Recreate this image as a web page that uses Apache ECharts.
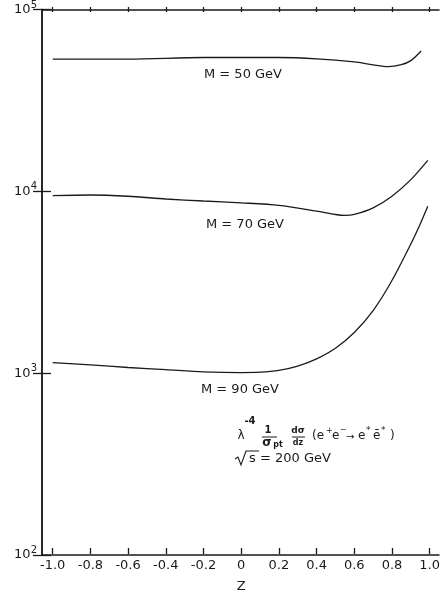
<!DOCTYPE html>
<html>
<head>
<meta charset="utf-8">
<script src="https://cdn.jsdelivr.net/npm/echarts@6/dist/echarts.min.js"></script>
<style>
  html, body { margin: 0; padding: 0; background: #fff; }
  #chart { width: 443px; height: 598px; }
</style>
</head>
<body>
<div id="chart"></div>
<script>
// Differential cross section vs. z for three excited-electron masses (log scale)
const zM50 = [-1.0, -0.6, -0.2, 0.2, 0.4, 0.6, 0.7, 0.78, 0.85, 0.9, 0.955];
const valM50 = [51760, 51760, 52840, 52840, 52000, 50000, 48190, 47100, 48300, 50820, 57410];

const zM70 = [-1.0, -0.8, -0.6, -0.4, -0.2, 0.0, 0.2, 0.4, 0.5, 0.55, 0.6, 0.7, 0.8, 0.9, 0.99];
const valM70 = [9247, 9311, 9162, 8851, 8630, 8433, 8166, 7586, 7278, 7194, 7278, 7907, 9162, 11300, 14420];

const zM90 = [-1.0, -0.8, -0.6, -0.4, -0.2, 0.0, 0.1, 0.2, 0.3, 0.4, 0.5, 0.6, 0.7, 0.8, 0.9, 0.95, 0.99];
const valM90 = [1122, 1089, 1054, 1026, 998, 989, 993, 1016, 1072, 1175, 1343, 1641, 2163, 3162, 5012, 6457, 8072];

const curveNames = ['M = 50 GeV', 'M = 70 GeV', 'M = 90 GeV'];
const xTickMin = -1.0, xTickMax = 1.0, xTickStep = 0.2;
const yMin = 100, yMax = 100000;

const FONT = 'DejaVu Sans';
const INK = '#1a1a1a';

const pairs = (xs, ys) => xs.map((x, i) => [x, ys[i]]);

const chart = echarts.init(document.getElementById('chart'), null, { renderer: 'canvas' });

const frameLine = { show: true, lineStyle: { color: INK, width: 1.5 } };

const option = {
  backgroundColor: '#ffffff',
  animation: false,
  grid: [
    // outer frame
    { left: 42, right: 4, top: 7, bottom: 43 },
    // data region, z from -1 to 1
    { left: 52.7, right: 11.3, top: 7, bottom: 43 }
  ],
  xAxis: [
    { gridIndex: 0, type: 'value', min: 0, max: 1, position: 'bottom',
      axisLine: frameLine, axisTick: { show: false }, axisLabel: { show: false }, splitLine: { show: false } },
    { gridIndex: 0, type: 'value', min: 0, max: 1, position: 'top',
      axisLine: frameLine, axisTick: { show: false }, axisLabel: { show: false }, splitLine: { show: false } },
    { gridIndex: 1, type: 'value', min: xTickMin, max: xTickMax, interval: xTickStep, position: 'bottom',
      axisLine: { show: false },
      axisTick: { show: true, inside: true, length: 6, lineStyle: { color: INK, width: 1.3 } },
      axisLabel: {
        show: true, margin: 5, color: INK, fontFamily: FONT, fontSize: 13,
        formatter: v => Math.abs(v) < 1e-9 ? '0' : v.toFixed(1)
      },
      splitLine: { show: false },
      name: 'Z', nameLocation: 'middle', nameGap: 26,
      nameTextStyle: { color: INK, fontFamily: FONT, fontSize: 13 }
    },
    { gridIndex: 1, type: 'value', min: xTickMin, max: xTickMax, interval: xTickStep, position: 'top',
      axisLine: { show: false },
      axisTick: { show: true, inside: true, length: 5, lineStyle: { color: INK, width: 1.3 } },
      axisLabel: { show: false }, splitLine: { show: false } }
  ],
  yAxis: [
    { gridIndex: 0, type: 'log', logBase: 10, min: yMin, max: yMax, position: 'left',
      axisLine: frameLine,
      axisTick: { show: true, inside: true, length: 9, lineStyle: { color: INK, width: 1.3 } },
      minorTick: { show: false },
      axisLabel: {
        show: true, margin: 5, color: INK,
        formatter: v => '{b|10}{s|' + Math.round(Math.log10(v)) + '}',
        rich: {
          b: { fontFamily: FONT, fontSize: 13, color: INK },
          s: { fontFamily: FONT, fontSize: 10, color: INK, padding: [0, 0, 9, 0] }
        }
      },
      splitLine: { show: false } },
    { gridIndex: 0, type: 'log', logBase: 10, min: yMin, max: yMax, position: 'right',
      axisLine: frameLine,
      axisTick: { show: true, inside: true, length: 9, lineStyle: { color: INK, width: 1.3 } },
      axisLabel: { show: false }, splitLine: { show: false } },
    { gridIndex: 1, type: 'log', logBase: 10, min: yMin, max: yMax, show: false }
  ],
  series: [
    [zM50, valM50], [zM70, valM70], [zM90, valM90]
  ].map((d, i) => ({
    name: curveNames[i],
    type: 'line',
    xAxisIndex: 2,
    yAxisIndex: 2,
    data: pairs(d[0], d[1]),
    smooth: 0.3,
    showSymbol: false,
    lineStyle: { color: INK, width: 1.3 }
  })),
  graphic: []
};

// text annotations
function txt(text, x, y, size, align, weight) {
  return {
    type: 'text',
    style: {
      text: text, x: x, y: y,
      fontFamily: FONT, fontSize: size, fontWeight: weight || 'normal', fill: INK,
      textAlign: align || 'center', align: align || 'center',
      textVerticalAlign: 'middle', verticalAlign: 'middle'
    }
  };
}
function bar(x1, x2, y) {
  return { type: 'line', shape: { x1: x1, y1: y, x2: x2, y2: y }, style: { stroke: INK, lineWidth: 1 } };
}

option.graphic = [
  txt(curveNames[0], 243, 75, 13),
  txt(curveNames[1], 245, 225, 13),
  txt(curveNames[2], 240, 390, 13),
  // λ^-4 (1/σ_pt) (dσ/dz) (e+e- → e* ē*)
  txt('λ', 241, 436, 12),
  txt('-4', 250, 421, 10, 'center', 'bold'),
  txt('1', 268, 430, 10, 'center', 'bold'),
  bar(262, 277, 437),
  txt('σ', 267, 443, 12, 'center', 'bold'),
  txt('pt', 278, 445, 8, 'center', 'bold'),
  txt('dσ', 298, 431, 9, 'center', 'bold'),
  bar(292, 305, 437),
  txt('dz', 298, 443, 8, 'center', 'bold'),
  txt('(e', 312, 436, 12, 'left'),
  txt('+', 326, 431, 8, 'left'),
  txt('e', 332, 436, 12, 'left'),
  txt('−', 340, 430, 8, 'left'),
  txt('→', 346, 437, 10, 'left'),
  txt('e', 358, 436, 12, 'left'),
  txt('*', 366, 431, 9, 'left'),
  txt('ē', 373, 436, 12, 'left'),
  txt('*', 381, 431, 9, 'left'),
  txt(')', 390, 436, 12, 'left'),
  // √s = 200 GeV
  { type: 'polyline', shape: { points: [[235, 459], [238, 457], [241, 465], [246, 451], [259, 451]] },
    style: { stroke: INK, fill: null, lineWidth: 1.1 } },
  txt('s = 200 GeV', 249, 459, 13, 'left')
];

chart.setOption(option);
</script>
</body>
</html>
